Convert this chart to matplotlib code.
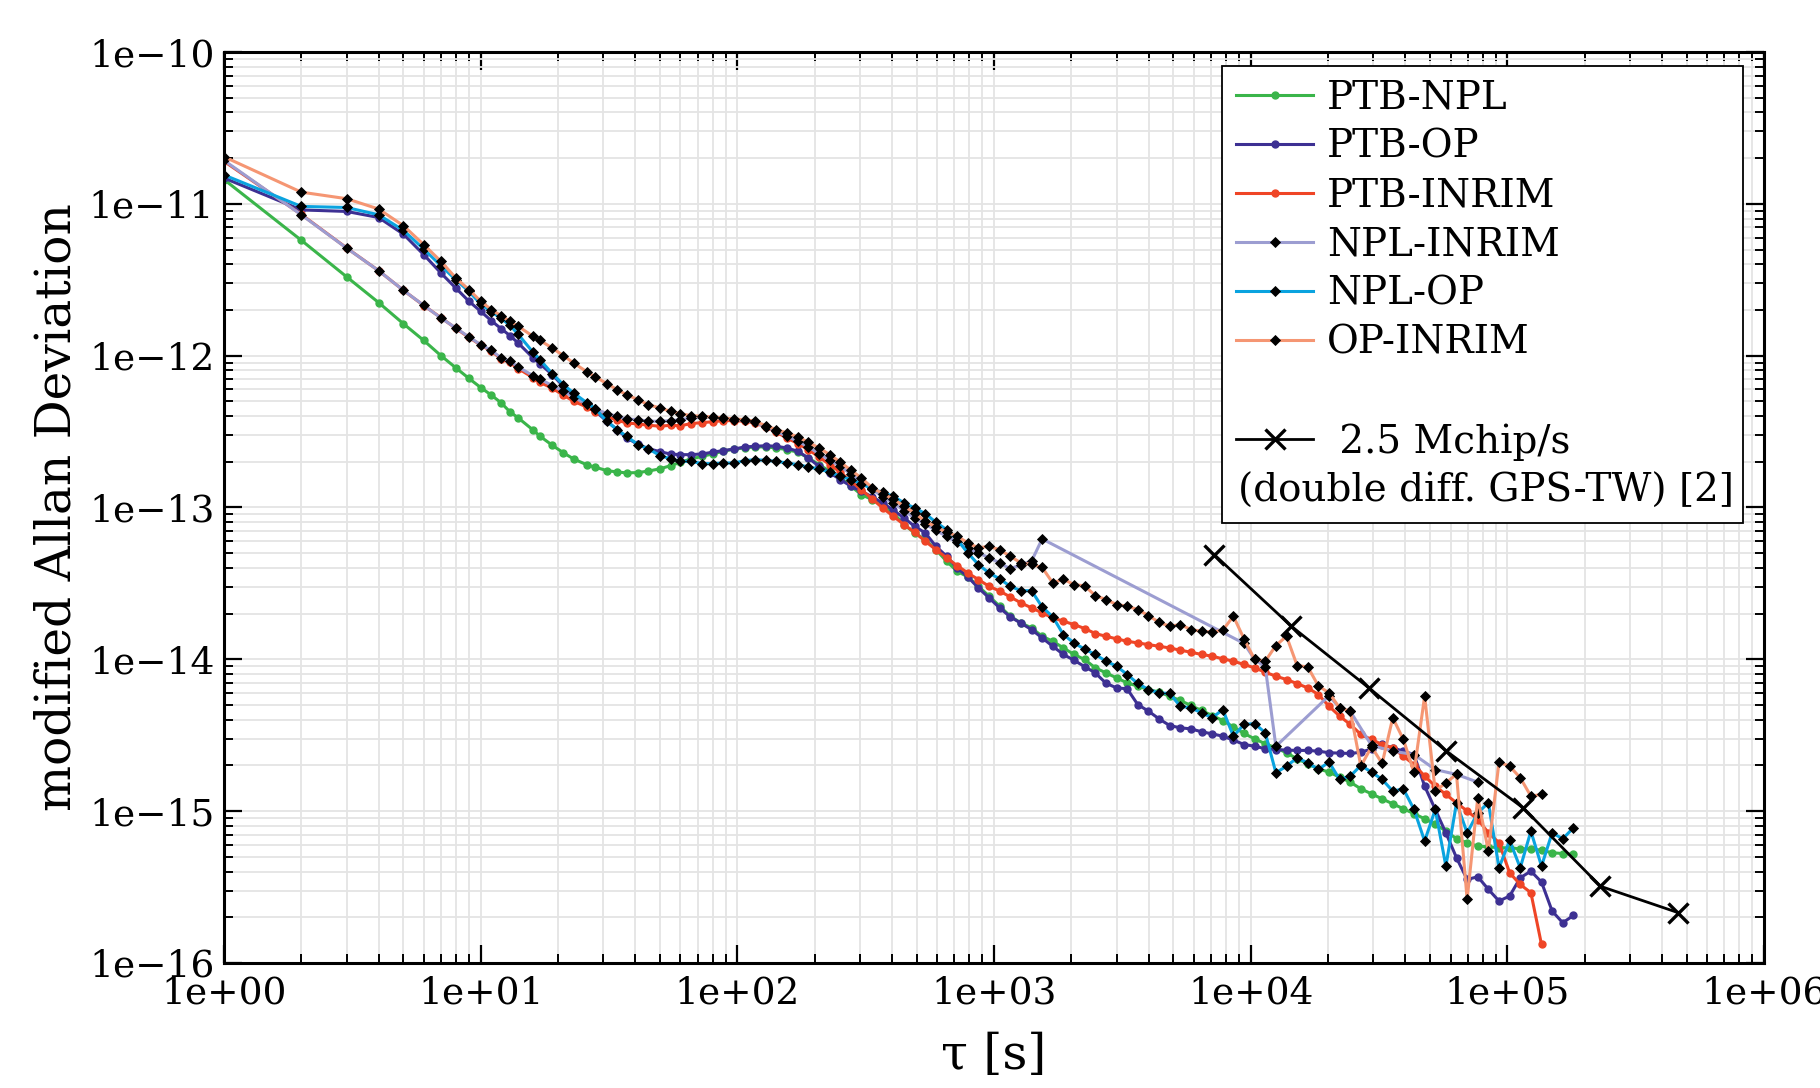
import numpy as np
import matplotlib
matplotlib.use("Agg")
import matplotlib.pyplot as plt
from matplotlib.ticker import LogLocator, FuncFormatter, NullFormatter
from matplotlib.lines import Line2D

plt.rcParams['font.family'] = ['DejaVu Serif']

# averaging times tau [s] shared by the six links
tau = [1, 2, 3, 4, 5, 6, 7, 8, 9, 10,
       11, 12, 13, 14, 16, 17, 19, 21, 23, 26,
       28, 31, 34, 37, 41, 45, 50, 55, 60, 66,
       73, 80, 88, 97, 107, 117, 129, 142, 156, 172,
       189, 208, 229, 252, 277, 304, 335, 368, 405, 446,
       490, 539, 593, 653, 718, 790, 869, 956, 1051, 1156,
       1272, 1399, 1539, 1693, 1862, 2048, 2253, 2478, 2726, 2999,
       3299, 3629, 3992, 4391, 4830, 5313, 5844, 6429, 7072, 7779,
       8557, 9412, 10354, 11389, 12528, 13781, 15159, 16675, 18342, 20176,
       22194, 24413, 26855, 29540, 32494, 35744, 39318, 43250, 47575, 52332,
       57566, 63322, 69654, 76620, 84282, 92710, 101981, 112179, 123397, 135737,
       149310, 164241, 180665]

# log10(mod ADEV), None = no point
ptb_npl = [-10.84, -11.24, -11.48, -11.65, -11.79, -11.90, -12.00, -12.08, -12.15, -12.21,
           -12.26, -12.31, -12.37, -12.41, -12.49, -12.53, -12.59, -12.64, -12.68, -12.72,
           -12.735, -12.757, -12.766, -12.772, -12.77, -12.76, -12.745, -12.724, -12.702, -12.68,
           -12.663, -12.647, -12.63, -12.615, -12.608, -12.601, -12.601, -12.608, -12.619, -12.636,
           -12.674, -12.718, -12.761, -12.805, -12.86, -12.915, -12.948, -12.981, -13.036, -13.113,
           -13.167, -13.211, -13.277, -13.354, -13.42, -13.457, -13.519, -13.584, -13.65, -13.716,
           -13.76, -13.793, -13.848, -13.881, -13.925, -13.968, -14.001, -14.056, -14.089, -14.122,
           -14.155, -14.177, -14.199, -14.216, -14.243, -14.271, -14.304, -14.337, -14.37, -14.403,
           -14.445, -14.488, -14.524, -14.556, -14.583, -14.616, -14.655, -14.688, -14.721, -14.743,
           -14.776, -14.809, -14.853, -14.886, -14.919, -14.952, -14.984, -15.017, -15.05, -15.087,
           -15.13, -15.182, -15.208, -15.23, -15.235, -15.241, -15.241, -15.248, -15.248, -15.257,
           -15.274, -15.279, -15.285]

ptb_op = [-10.83, -11.04, -11.05, -11.09, -11.20, -11.335, -11.456, -11.555, -11.642, -11.708,
          -11.77, -11.822, -11.868, -11.917, -12.015, -12.053, -12.125, -12.202, -12.268, -12.323,
          -12.366, -12.432, -12.487, -12.54, -12.585, -12.612, -12.633, -12.648, -12.652, -12.652,
          -12.647, -12.636, -12.625, -12.615, -12.601, -12.597, -12.593, -12.597, -12.608, -12.63,
          -12.674, -12.729, -12.772, -12.816, -12.86, -12.893, -12.93, -12.97, -13.018, -13.069,
          -13.124, -13.167, -13.255, -13.321, -13.398, -13.457, -13.53, -13.595, -13.661, -13.72,
          -13.762, -13.804, -13.859, -13.914, -13.968, -14.006, -14.048, -14.089, -14.157, -14.188,
          -14.194, -14.298, -14.341, -14.392, -14.436, -14.451, -14.458, -14.477, -14.491, -14.506,
          -14.532, -14.561, -14.572, -14.589, -14.594, -14.598, -14.60, -14.60, -14.605, -14.615,
          -14.618, -14.62, -14.612, -14.59, -14.56, -14.583, -14.605, -14.627, -14.835, -14.989,
          -15.143, -15.307, -15.45, -15.432, -15.515, -15.592, -15.559, -15.439, -15.395, -15.467,
          -15.658, -15.735, -15.687]

ptb_inrim = [-10.72, -11.07, -11.29, -11.44, -11.57, -11.67, -11.75, -11.82, -11.88, -11.93,
             -11.97, -12.02, -12.045, -12.085, -12.145, -12.175, -12.215, -12.26, -12.30, -12.34,
             -12.37, -12.40, -12.425, -12.443, -12.45, -12.458, -12.465, -12.458, -12.462, -12.447,
             -12.441, -12.435, -12.428, -12.428, -12.432, -12.443, -12.47, -12.505, -12.542, -12.579,
             -12.619, -12.667, -12.718, -12.768, -12.827, -12.882, -12.944, -13.003, -13.058, -13.113,
             -13.163, -13.222, -13.277, -13.332, -13.383, -13.431, -13.475, -13.519, -13.55, -13.589,
             -13.628, -13.661, -13.694, -13.727, -13.749, -13.771, -13.797, -13.83, -13.848, -13.865,
             -13.881, -13.892, -13.903, -13.914, -13.925, -13.94, -13.953, -13.968, -13.979, -13.997,
             -14.012, -14.034, -14.056, -14.085, -14.111, -14.133, -14.16, -14.188, -14.232, -14.309,
             -14.374, -14.429, -14.495, -14.528, -14.561, -14.583, -14.638, -14.693, -14.769, -14.835,
             -14.89, -14.945, -14.999, -15.055, -15.142, -15.208, -15.406, -15.483, -15.537, -15.878]

npl_inrim = [-10.714, -11.072, -11.291, -11.44, -11.57, -11.669, -11.752, -11.818, -11.877, -11.928,
             -11.965, -12.015, -12.037, -12.075, -12.132, -12.154, -12.197, -12.235, -12.272, -12.318,
             -12.351, -12.382, -12.399, -12.417, -12.421, -12.432, -12.432, -12.428, -12.421, -12.41,
             -12.404, -12.404, -12.41, -12.421, -12.426, -12.439, -12.47, -12.498, -12.531, -12.564,
             -12.601, -12.645, -12.689, -12.729, -12.78, -12.83, -12.88, -12.93, -12.97, -13.02,
             -13.07, -13.11, -13.15, -13.19, -13.23, -13.27, -13.30, -13.33, -13.365, -13.404,
             -13.376, -13.354, -13.207, None, None, None, None, None, None, None,
             None, None, None, None, None, None, None, None, None, None,
             None, -13.895, -14.00, -14.05, -14.573, None, None, None, None, -14.24,
             -14.32, -14.342, None, -14.567, None, -14.605, None, -14.627, None, -14.726,
             None, -14.758, None, -14.809]

npl_op = [-10.81, -11.017, -11.024, -11.072, -11.175, -11.298, -11.408, -11.50, -11.577, -11.66,
          -11.71, -11.755, -11.80, -11.86, -11.978, -12.026, -12.119, -12.191, -12.246, -12.312,
          -12.351, -12.432, -12.487, -12.531, -12.586, -12.614, -12.658, -12.68, -12.696, -12.696,
          -12.711, -12.711, -12.707, -12.707, -12.691, -12.685, -12.689, -12.696, -12.707, -12.718,
          -12.733, -12.746, -12.768, -12.794, -12.816, -12.843, -12.878, -12.90, -12.926, -12.97,
          -13.003, -13.04, -13.097, -13.146, -13.211, -13.299, -13.376, -13.431, -13.47, -13.519,
          -13.548, -13.548, -13.655, -13.72, -13.837, -13.892, -13.933, -13.968, -14.012, -14.045,
          -14.10, -14.159, -14.199, -14.221, -14.225, -14.309, -14.32, -14.352, -14.385, -14.331,
          -14.506, -14.429, -14.423, -14.484, -14.747, -14.704, -14.649, -14.682, -14.725, -14.677,
          -14.791, -14.769, -14.699, -14.743, -14.791, -14.868, -14.853, -14.989, -15.197, -14.989,
          -15.362, -14.945, -15.143, -15.011, -14.945, -15.373, -15.193, -15.373, -15.132, -15.362,
          -15.143, -15.182, -15.11]

op_inrim = [-10.69, -10.923, -10.966, -11.034, -11.144, -11.269, -11.379, -11.489, -11.565, -11.642,
            -11.697, -11.737, -11.774, -11.807, -11.873, -11.899, -11.95, -12.00, -12.048, -12.108,
            -12.14, -12.184, -12.224, -12.257, -12.29, -12.323, -12.345, -12.367, -12.382, -12.395,
            -12.399, -12.404, -12.41, -12.417, -12.421, -12.432, -12.461, -12.487, -12.509, -12.535,
            -12.571, -12.608, -12.652, -12.702, -12.755, -12.805, -12.871, -12.908, -12.944, -12.992,
            -13.036, -13.091, -13.128, -13.163, -13.189, -13.233, -13.266, -13.255, -13.279, -13.321,
            -13.365, -13.375, -13.395, -13.497, -13.472, -13.508, -13.516, -13.58, -13.606, -13.639,
            -13.65, -13.672, -13.712, -13.756, -13.782, -13.771, -13.804, -13.815, -13.821, -13.808,
            -13.716, -13.865, -14.001, -14.012, -13.909, -13.848, -14.041, -14.05, -14.175, -14.221,
            -14.32, -14.341, -14.704, -14.576, -14.686, -14.385, -14.528, -14.743, -14.243, -14.868,
            -14.813, -14.758, -15.581, -14.912, -15.263, -14.677, -14.704, -14.78, -14.901, -14.89]

# double difference GPS - TW, 2.5 Mchip/s
gps_tau = [7200, 14400, 28800, 57600, 115200, 230400, 460800]
gps_mdev = [4.9e-14, 1.65e-14, 6.5e-15, 2.5e-15, 1.05e-15, 3.2e-16, 2.15e-16]

links = [
    ("PTB-NPL", ptb_npl, "#3ab54a", "o"),
    ("PTB-OP", ptb_op, "#3d3093", "o"),
    ("PTB-INRIM", ptb_inrim, "#ef4526", "o"),
    ("NPL-INRIM", npl_inrim, "#9c9dd1", "D"),
    ("NPL-OP", npl_op, "#0aa3df", "D"),
    ("OP-INRIM", op_inrim, "#f59673", "D"),
]

FS = 27

fig = plt.figure(figsize=(18.2, 10.88), dpi=100)
ax = fig.add_axes([0.1231, 0.1149, 0.8462, 0.8373])

handles = []
for name, vals, col, mk in links:
    t = np.array(tau[:len(vals)], dtype=float)
    v = np.array([np.nan if x is None else x for x in vals], dtype=float)
    ok = ~np.isnan(v)
    if mk == "o":
        ln, = ax.plot(t[ok], 10.0 ** v[ok], color=col, lw=2.2, marker="o", ms=5.0,
                      mfc=col, mec=col, label=name)
    else:
        ln, = ax.plot(t[ok], 10.0 ** v[ok], color=col, lw=2.2, marker="D", ms=4.6,
                      mfc="black", mec="black", mew=0.6, label=name)
    handles.append(ln)

gps, = ax.plot(gps_tau, gps_mdev, color="black", lw=2.0, marker="x", ms=15, mew=2.4,
               label=" 2.5 Mchip/s")

ax.set_xscale("log")
ax.set_yscale("log")
ax.set_xlim(1, 1e6)
ax.set_ylim(1e-16, 1e-10)

def exp_fmt(v, pos):
    e = int(round(np.log10(v)))
    sign = "\u2212" if e < 0 else "+"
    return "1e%s%02d" % (sign, abs(e))

for axis in (ax.xaxis, ax.yaxis):
    axis.set_major_locator(LogLocator(base=10, numticks=20))
    axis.set_minor_locator(LogLocator(base=10, subs=np.arange(2, 10), numticks=100))
    axis.set_major_formatter(FuncFormatter(exp_fmt))
    axis.set_minor_formatter(NullFormatter())

ax.grid(True, which="both", color="#e4e4e4", lw=1.3)
ax.set_axisbelow(True)
ax.tick_params(which="both", direction="in", top=True, right=True, labelsize=FS)
ax.tick_params(which="major", length=13, width=1.6)
ax.tick_params(which="minor", length=6.5, width=1.4)
ax.tick_params(axis="y", pad=7)
ax.tick_params(axis="x", pad=9)
for sp in ax.spines.values():
    sp.set_linewidth(2.2)

ax.set_ylabel("modified Allan Deviation", fontsize=35)
ax.set_xlabel("\u03c4 [s]", fontsize=35)
ax.yaxis.set_label_coords(-0.093, 0.5)
ax.xaxis.set_label_coords(0.5, -0.076)

# empty row before the GPS entry, and a row kept for the second line of its label
blank = Line2D([], [], linestyle="none")
spacer = Line2D([], [], linestyle="none")
leg_handles = handles + [blank, gps, spacer]
leg_labels = [h.get_label() for h in handles] + [" ", " 2.5 Mchip/s", " "]
leg = ax.legend(leg_handles, leg_labels, loc="upper left", mode="expand",
                bbox_to_anchor=(0.648, 0.0, 0.3384, 0.9846), borderaxespad=0,
                fontsize=FS + 1, handlelength=2.0, handletextpad=0.35, borderpad=0.35,
                labelspacing=0.31, numpoints=1, fancybox=False, framealpha=1,
                edgecolor="black")
leg.get_frame().set_linewidth(1.3)

# second line of the GPS label starts at the left edge of the box
fig.canvas.draw()
ref_txt = leg.get_texts()[-2]
last = leg.get_texts()[-1]
bb_ref = ref_txt.get_window_extent()
bb = last.get_window_extent()
row_h = bb_ref.height
fr = leg.get_frame().get_window_extent()
pad_px = 0.4 * (FS + 1) * fig.dpi / 72.0
y_bottom = bb.y0 + bb.height - row_h
fig.text((fr.x0 + pad_px) / fig.bbox.width, y_bottom / fig.bbox.height,
         "(double diff. GPS-TW) [2]", fontsize=FS + 1, va="bottom", ha="left")

fig.savefig("out.png", dpi=100)
